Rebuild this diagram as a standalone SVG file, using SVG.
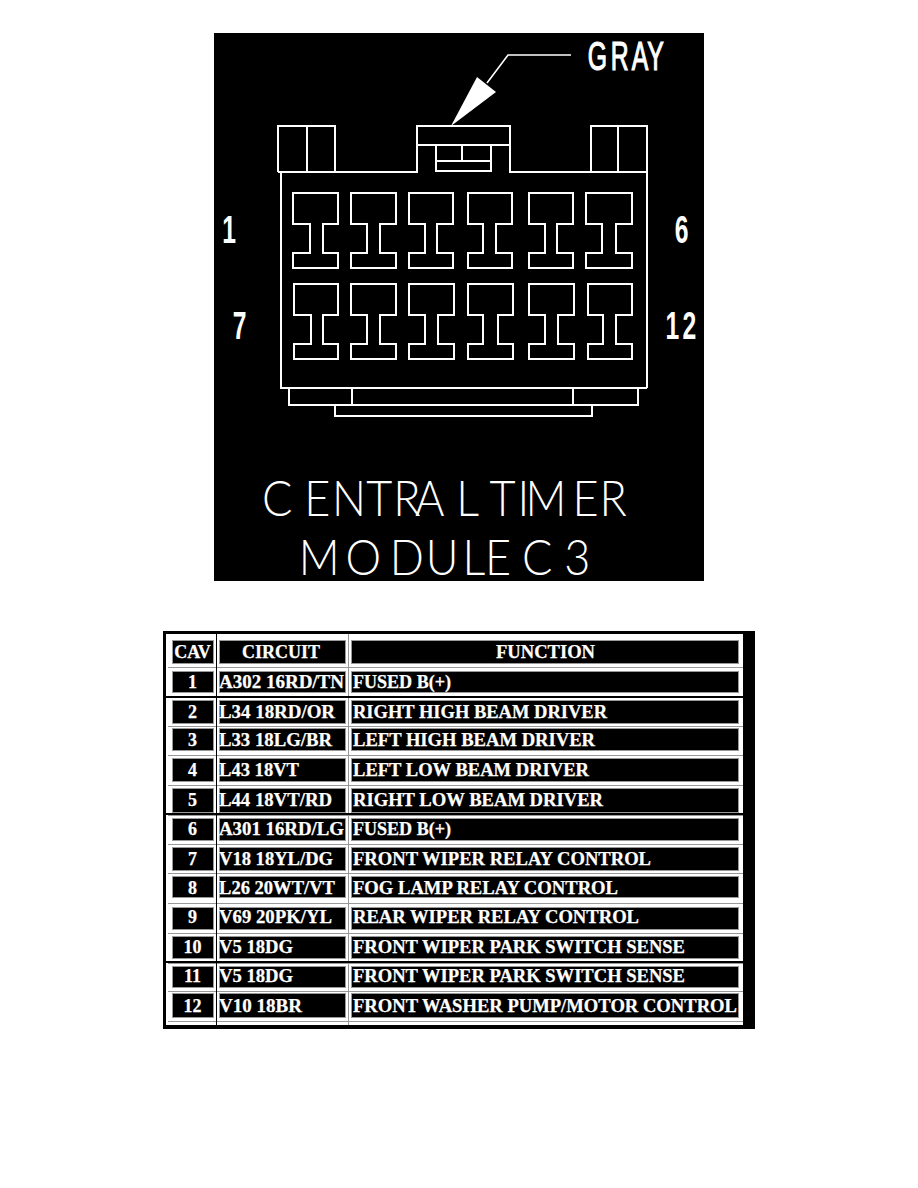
<svg xmlns="http://www.w3.org/2000/svg" width="918" height="1188" viewBox="0 0 918 1188">
<style>
.l{fill:none;stroke:#fff;stroke-width:2;shape-rendering:crispEdges}
.lab{font-family:"Liberation Sans",Arial,sans-serif;fill:#fff;font-weight:700}
.big{font-family:"Lato","Open Sans",sans-serif;font-weight:300;fill:#fff;font-size:50px}
.c{fill:#000;stroke:#999;stroke-width:1;shape-rendering:crispEdges}
.t{font-family:"Liberation Serif","Times New Roman",serif;font-weight:700;font-size:18px;fill:#fff;stroke:#fff;stroke-width:.25}
.m{text-anchor:middle}
.g{stroke:#999;stroke-width:1;shape-rendering:crispEdges;fill:none}
.k{stroke:#000;stroke-width:1.5;shape-rendering:crispEdges;fill:none}
</style>
<rect width="918" height="1188" fill="#fff"/>
<g id="connector-diagram">
<rect x="214" y="33" width="490" height="548" fill="#000"/>
<g id="housing">
<path class="l" d="M281 172V388M647 172V388M280 388H647M278 172H417V126H510V172H647M278 172V126H335V172M307 126V172M417 145H510M436 145V172M491 145V172M436 161H491M462 145V161M436 171H491M591 172V126H647V172M618 126V172"/>
<path class="l" d="M289 388V405H638V388M352 388V405M573 388V405M335 405V416H592V405"/>
</g>
<g id="terminals-top">
<path class="l" d="M293 193H338V224H323V253H338V268H293V253H310V224H293Z"/>
<path class="l" d="M351 193H396V224H380V253H396V268H351V253H367V224H351Z"/>
<path class="l" d="M409 193H453V224H437V253H453V268H409V253H425V224H409Z"/>
<path class="l" d="M468 193H512V224H496V253H512V268H468V253H483V224H468Z"/>
<path class="l" d="M529 193H573V224H557V253H573V268H529V253H545V224H529Z"/>
<path class="l" d="M586 193H632V224H616V253H632V268H586V253H602V224H586Z"/>
</g>
<g id="terminals-bottom">
<path class="l" d="M294 284H338V315H323V344H338V359H294V344H311V315H294Z"/>
<path class="l" d="M351 284H396V315H380V344H396V359H351V344H367V315H351Z"/>
<path class="l" d="M409 284H454V315H438V344H454V359H409V344H425V315H409Z"/>
<path class="l" d="M468 284H513V315H498V344H513V359H468V344H483V315H468Z"/>
<path class="l" d="M529 284H574V315H558V344H574V359H529V344H545V315H529Z"/>
<path class="l" d="M588 284H632V315H616V344H632V359H588V344H603V315H588Z"/>
</g>
<g id="connectors">
<path d="M487 83L508 55H571" fill="none" stroke="#fff" stroke-width="1.6"/>
<polygon points="451,126 477,77 496,92" fill="#fff"/>
</g>
<g id="labels">
<text class="lab" style="font-weight:400;stroke:#fff;stroke-width:1.2" transform="scale(.62 1)" y="70" x="948 985 1019 1044" font-size="40">GRAY</text>
<text class="lab" transform="scale(.65 1)" x="342" y="243" font-size="38">1</text>
<text class="lab" transform="scale(.65 1)" x="1038" y="243" font-size="38">6</text>
<text class="lab" transform="scale(.65 1)" x="358" y="339" font-size="38">7</text>
<text class="lab" transform="scale(.65 1)" x="1024 1050" y="339" font-size="38">12</text>
<text class="big" transform="scale(.9 1)" y="516" x="291 338 369 407 437 461 507 530 544 575 584 636 666">CENTRAL TIMER</text>
<text class="big" transform="scale(.9 1)" y="575" x="332 384 433 473 514 539 564 580 627">MODULE C3</text>
</g>
</g>
<g id="table">
<rect x="163" y="631" width="592" height="398" fill="#000"/>
<rect x="166" y="634" width="577" height="391" fill="#fff"/>
<g id="rules">
<path class="g" d="M348 634V1025M168 667H743M168 696H743M168 726H743M168 755H743M168 785H743M168 815H743M168 844H743M168 873H743M168 903H743M168 933H743M168 963H743M168 991H743M168 1021H743"/>
<path class="k" d="M216.500 634V1025M166 697H743M166 814H743M166 962H743"/>
</g>
<g id="header"><rect class="c" x="172" y="640" width="41" height="23"/><rect class="c" x="219" y="640" width="126" height="23"/><rect class="c" x="351" y="640" width="387" height="23"/>
<text class="t m" x="192.500" y="658">CAV</text><text class="t" x="242" y="658" textLength="78" lengthAdjust="spacingAndGlyphs">CIRCUIT</text><text class="t" x="496" y="658" textLength="99" lengthAdjust="spacingAndGlyphs">FUNCTION</text></g>
<g id="row-1"><rect class="c" x="172" y="671" width="41" height="21"/><rect class="c" x="219" y="671" width="126" height="21"/><rect class="c" x="351" y="671" width="387" height="21"/>
<text class="t m" x="192.500" y="688">1</text><text class="t" x="219" y="688" textLength="125" lengthAdjust="spacingAndGlyphs">A302 16RD/TN</text><text class="t" x="353" y="688" textLength="98" lengthAdjust="spacingAndGlyphs">FUSED B(+)</text></g>
<g id="row-2"><rect class="c" x="172" y="700" width="41" height="23"/><rect class="c" x="219" y="700" width="126" height="23"/><rect class="c" x="351" y="700" width="387" height="23"/>
<text class="t m" x="192.500" y="718">2</text><text class="t" x="219" y="718" textLength="116" lengthAdjust="spacingAndGlyphs">L34 18RD/OR</text><text class="t" x="353" y="718" textLength="254" lengthAdjust="spacingAndGlyphs">RIGHT HIGH BEAM DRIVER</text></g>
<g id="row-3"><rect class="c" x="172" y="728" width="41" height="22"/><rect class="c" x="219" y="728" width="126" height="22"/><rect class="c" x="351" y="728" width="387" height="22"/>
<text class="t m" x="192.500" y="746">3</text><text class="t" x="219" y="746" textLength="113" lengthAdjust="spacingAndGlyphs">L33 18LG/BR</text><text class="t" x="353" y="746" textLength="242" lengthAdjust="spacingAndGlyphs">LEFT HIGH BEAM DRIVER</text></g>
<g id="row-4"><rect class="c" x="172" y="758" width="41" height="23"/><rect class="c" x="219" y="758" width="126" height="23"/><rect class="c" x="351" y="758" width="387" height="23"/>
<text class="t m" x="192.500" y="776">4</text><text class="t" x="219" y="776" textLength="80" lengthAdjust="spacingAndGlyphs">L43 18VT</text><text class="t" x="353" y="776" textLength="236" lengthAdjust="spacingAndGlyphs">LEFT LOW BEAM DRIVER</text></g>
<g id="row-5"><rect class="c" x="172" y="788" width="41" height="24"/><rect class="c" x="219" y="788" width="126" height="24"/><rect class="c" x="351" y="788" width="387" height="24"/>
<text class="t m" x="192.500" y="806">5</text><text class="t" x="219" y="806" textLength="113" lengthAdjust="spacingAndGlyphs">L44 18VT/RD</text><text class="t" x="353" y="806" textLength="250" lengthAdjust="spacingAndGlyphs">RIGHT LOW BEAM DRIVER</text></g>
<g id="row-6"><rect class="c" x="172" y="818" width="41" height="22"/><rect class="c" x="219" y="818" width="126" height="22"/><rect class="c" x="351" y="818" width="387" height="22"/>
<text class="t m" x="192.500" y="835">6</text><text class="t" x="219" y="835" textLength="125" lengthAdjust="spacingAndGlyphs">A301 16RD/LG</text><text class="t" x="353" y="835" textLength="98" lengthAdjust="spacingAndGlyphs">FUSED B(+)</text></g>
<g id="row-7"><rect class="c" x="172" y="847" width="41" height="23"/><rect class="c" x="219" y="847" width="126" height="23"/><rect class="c" x="351" y="847" width="387" height="23"/>
<text class="t m" x="192.500" y="865">7</text><text class="t" x="219" y="865" textLength="114" lengthAdjust="spacingAndGlyphs">V18 18YL/DG</text><text class="t" x="353" y="865" textLength="298" lengthAdjust="spacingAndGlyphs">FRONT WIPER RELAY CONTROL</text></g>
<g id="row-8"><rect class="c" x="172" y="876" width="41" height="21"/><rect class="c" x="219" y="876" width="126" height="21"/><rect class="c" x="351" y="876" width="387" height="21"/>
<text class="t m" x="192.500" y="894">8</text><text class="t" x="219" y="894" textLength="116" lengthAdjust="spacingAndGlyphs">L26 20WT/VT</text><text class="t" x="353" y="894" textLength="265" lengthAdjust="spacingAndGlyphs">FOG LAMP RELAY CONTROL</text></g>
<g id="row-9"><rect class="c" x="172" y="907" width="41" height="22"/><rect class="c" x="219" y="907" width="126" height="22"/><rect class="c" x="351" y="907" width="387" height="22"/>
<text class="t m" x="192.500" y="923">9</text><text class="t" x="219" y="923" textLength="113" lengthAdjust="spacingAndGlyphs">V69 20PK/YL</text><text class="t" x="353" y="923" textLength="286" lengthAdjust="spacingAndGlyphs">REAR WIPER RELAY CONTROL</text></g>
<g id="row-10"><rect class="c" x="172" y="936" width="41" height="22"/><rect class="c" x="219" y="936" width="126" height="22"/><rect class="c" x="351" y="936" width="387" height="22"/>
<text class="t m" x="192.500" y="953">10</text><text class="t" x="219" y="953" textLength="74" lengthAdjust="spacingAndGlyphs">V5 18DG</text><text class="t" x="353" y="953" textLength="332" lengthAdjust="spacingAndGlyphs">FRONT WIPER PARK SWITCH SENSE</text></g>
<g id="row-11"><rect class="c" x="172" y="966" width="41" height="21"/><rect class="c" x="219" y="966" width="126" height="21"/><rect class="c" x="351" y="966" width="387" height="21"/>
<text class="t m" x="192.500" y="982">11</text><text class="t" x="219" y="982" textLength="74" lengthAdjust="spacingAndGlyphs">V5 18DG</text><text class="t" x="353" y="982" textLength="332" lengthAdjust="spacingAndGlyphs">FRONT WIPER PARK SWITCH SENSE</text></g>
<g id="row-12"><rect class="c" x="172" y="993" width="41" height="24"/><rect class="c" x="219" y="993" width="126" height="24"/><rect class="c" x="351" y="993" width="387" height="24"/>
<text class="t m" x="192.500" y="1012">12</text><text class="t" x="219" y="1012" textLength="83" lengthAdjust="spacingAndGlyphs">V10 18BR</text><text class="t" x="353" y="1012" textLength="384" lengthAdjust="spacingAndGlyphs">FRONT WASHER PUMP/MOTOR CONTROL</text></g>
</g>
</svg>
